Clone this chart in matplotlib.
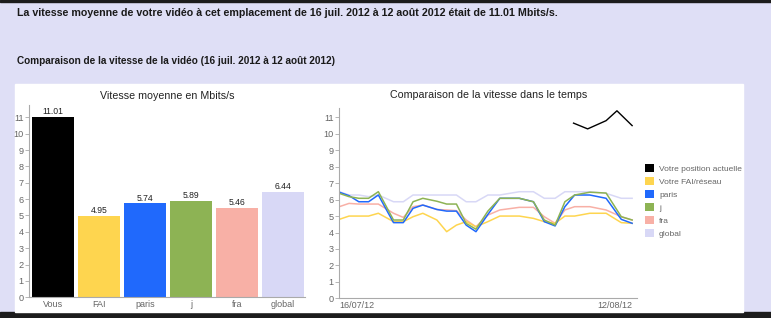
import numpy as np
import matplotlib
matplotlib.use("Agg")
import matplotlib.pyplot as plt
from matplotlib.patches import Rectangle, Patch

plt.rcParams['font.family'] = ['Liberation Sans', 'DejaVu Sans']

# --- données : vitesse moyenne (barres) ---
categories = ["Vous", "FAI", "paris", "j", "fra", "global"]
moyennes = [11.01, 4.95, 5.74, 5.89, 5.46, 6.44]
couleurs = ["#000000", "#fed54f", "#2069fc", "#8db354", "#f8b0a6", "#d8d8f6"]

# --- données : évolution dans le temps (jours depuis le 16/07/12) ---
jours = [0, 0.9, 1.8, 2.7, 3.6, 5.0, 5.9, 6.8, 7.7, 9.0, 9.9, 10.8, 11.7,
         12.6, 13.7, 14.8, 16.6, 17.9, 18.9, 19.9, 20.8, 21.7, 23.1, 24.6,
         26.0, 27.0]
fai = [4.8, 5.0, 5.0, 5.0, 5.17, 4.66, 4.66, 4.96, 5.17, 4.76, 4.05, 4.45,
       4.66, 4.35, 4.66, 5.0, 5.0, 4.86, 4.66, 4.56, 5.0, 5.0, 5.17, 5.17,
       4.6, 4.56]
paris = [6.45, 6.24, 5.87, 5.87, 6.28, 4.6, 4.6, 5.47, 5.67, 5.4, 5.3, 5.3,
         4.45, 4.05, 5.1, 6.08, 6.08, 5.87, 4.66, 4.4, 5.57, 6.28, 6.28,
         6.08, 4.8, 4.56]
j = [6.38, 6.18, 6.08, 6.08, 6.48, 4.76, 4.76, 5.87, 6.08, 5.9, 5.73, 5.73,
     4.55, 4.2, 5.3, 6.08, 6.08, 5.87, 4.76, 4.45, 5.87, 6.28, 6.45, 6.4,
     4.96, 4.76]
fra = [5.57, 5.77, 5.73, 5.73, 5.73, 5.17, 4.92, 5.57, 5.67, 5.4, 5.37, 5.33,
       4.76, 4.35, 5.06, 5.37, 5.53, 5.53, 4.96, 4.56, 5.37, 5.57, 5.57,
       5.37, 4.96, 4.76]
glob = [6.48, 6.28, 6.28, 6.18, 6.28, 5.87, 5.87, 6.28, 6.28, 6.28, 6.28,
        6.28, 5.87, 5.87, 6.28, 6.28, 6.48, 6.48, 6.08, 6.08, 6.48, 6.48,
        6.48, 6.38, 6.08, 6.08]
jours_vous = [21.6, 22.9, 24.6, 25.6, 27.0]
vous = [10.65, 10.3, 10.8, 11.4, 10.5]

labels_legende = ["Votre position actuelle", "Votre FAI/réseau", "paris",
                  "j", "fra", "global"]
dates_x = ["16/07/12", "12/08/12"]

fig = plt.figure(figsize=(7.71, 3.18), dpi=100)
fig.patch.set_facecolor("#dfdff6")

# bandeaux sombres et panneau blanc
fig.add_artist(Rectangle((0, 0), 1, 6 / 318, transform=fig.transFigure,
                         color="#1c1c1c", zorder=0))
fig.add_artist(Rectangle((0, 316 / 318), 1, 2 / 318, transform=fig.transFigure,
                         color="#1c1c1c", zorder=0))
fig.add_artist(Rectangle((15 / 771, 6 / 318), 728 / 771, 228 / 318,
                         transform=fig.transFigure, color="white", zorder=0))

fig.text(17 / 771, 1 - 12.5 / 318,
         "La vitesse moyenne de votre vidéo à cet emplacement de 16 juil. 2012 "
         "à 12 août 2012 était de 11.01 Mbits/s.",
         fontsize=7.7, fontweight="bold", color="#1a1a1a", va="center")
fig.text(17 / 771, 1 - 61 / 318,
         "Comparaison de la vitesse de la vidéo (16 juil. 2012 à 12 août 2012)",
         fontsize=7.2, fontweight="bold", color="#1a1a1a", va="center")

gris = "#666666"


def style_axe(ax):
    ax.set_facecolor("none")
    for s in ["top", "right"]:
        ax.spines[s].set_visible(False)
    for s in ["left", "bottom"]:
        ax.spines[s].set_color("#aaaaaa")
        ax.spines[s].set_linewidth(0.8)
    ax.tick_params(axis="y", length=3, width=0.6, color="#aaaaaa",
                   labelsize=6.6, labelcolor=gris, pad=1)
    ax.tick_params(axis="x", length=0, labelsize=6.5, labelcolor=gris, pad=2)
    ax.set_yticks(range(0, 12))


# --- graphique à barres ---
ax1 = fig.add_axes([29.3 / 771, 20.7 / 318, 275.7 / 771, 192.3 / 318])
style_axe(ax1)
x = np.arange(len(categories))
ax1.bar(x, moyennes, width=0.91, color=couleurs)
for xi, v in zip(x, moyennes):
    ax1.text(xi, v + 0.05, f"{v:.2f}", ha="center", va="bottom",
             fontsize=6.2, color="#222222")
ax1.set_xticks(x)
ax1.set_xticklabels(categories)
ax1.set_xlim(-0.515, 5.48)
ax1.set_ylim(0, 11.75)
ax1.set_title("Vitesse moyenne en Mbits/s", fontsize=7.7, color="#222222",
              pad=4)

# --- graphique temporel ---
ax2 = fig.add_axes([339.3 / 771, 19.7 / 318, 297.7 / 771, 190.3 / 318])
style_axe(ax2)
lw = 1.1
ax2.plot(jours, glob, color=couleurs[5], lw=lw)
ax2.plot(jours, fra, color=couleurs[4], lw=lw)
ax2.plot(jours, fai, color=couleurs[1], lw=lw)
ax2.plot(jours, paris, color=couleurs[2], lw=lw)
ax2.plot(jours, j, color=couleurs[3], lw=lw)
ax2.plot(jours_vous, vous, color=couleurs[0], lw=1.0)
ax2.set_xlim(0, 27.45)
ax2.set_ylim(0, 11.57)
ax2.set_xticks([0, 27])
ax2.set_xticklabels(dates_x)
tl = ax2.get_xticklabels()
tl[0].set_ha("left")
tl[1].set_ha("right")
ax2.set_title("Comparaison de la vitesse dans le temps", fontsize=7.7,
              color="#222222", pad=7)

poignees = [Patch(facecolor=c, edgecolor="none") for c in couleurs]
fig.legend(poignees, labels_legende, loc="upper left",
           bbox_to_anchor=(645 / 771, 1 - 164 / 318), frameon=False,
           fontsize=6, labelcolor=gris, handlelength=1.08, handleheight=1.08,
           handletextpad=0.6, labelspacing=0.5, borderpad=0, borderaxespad=0)

fig.savefig("out.png", dpi=100, facecolor=fig.get_facecolor())
